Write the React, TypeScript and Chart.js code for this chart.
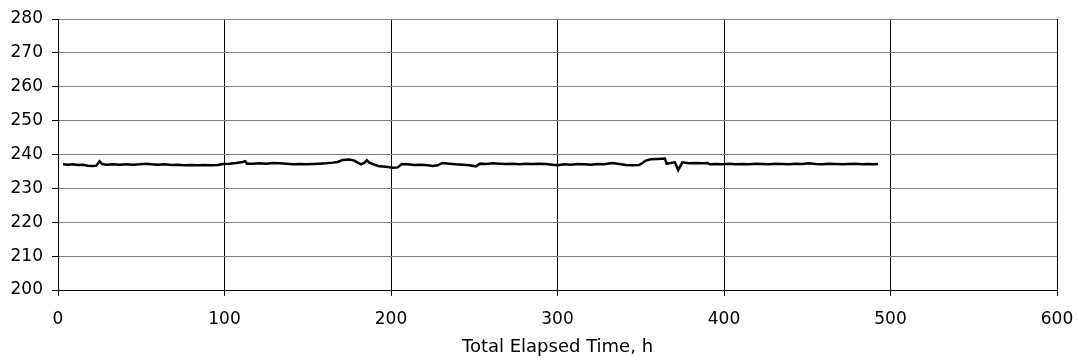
import React, { useEffect, useRef } from "react";
import { Chart, registerables } from "chart.js";

Chart.register(...registerables);

const hours = [
  3, 6, 9, 12, 15, 18, 21, 23, 25, 26.5, 29, 33, 37, 41, 45, 49, 53, 56, 60, 64,
  68, 72, 76, 80, 84, 88, 92, 96, 99, 103, 107, 111, 112.5, 113.5, 117, 121, 125,
  129, 133, 137, 141, 145, 149, 153, 157, 161, 165, 168, 171, 175, 178, 180, 182,
  184, 185.5, 187, 189, 193, 197, 201, 204, 206.5, 210, 214, 218, 222, 225, 228,
  231, 235, 239, 243, 247, 251, 253.5, 257, 261, 265, 269, 273, 277, 281, 285,
  289, 293, 297, 300, 304, 308, 312, 316, 320, 324, 328, 333, 337, 341, 345, 349,
  351, 353, 356, 360, 364.5, 365.5, 368, 370.5, 372.5, 375, 379, 383, 387, 390,
  391.5, 395, 399, 403, 407, 411, 415, 419, 423, 427, 431, 435, 439, 443, 447,
  451, 455, 459, 463, 467, 471, 475, 479, 483, 487, 490, 492.5,
];

const temperature = [
  237.1, 237.0, 237.1, 236.9, 237.0, 236.7, 236.6, 236.7, 238.0, 237.2, 237.0,
  237.1, 237.0, 237.1, 237.0, 237.1, 237.3, 237.1, 237.0, 237.1, 236.9, 237.0,
  236.8, 236.9, 236.8, 236.9, 236.8, 236.9, 237.2, 237.3, 237.5, 237.8, 238.0,
  237.3, 237.3, 237.4, 237.3, 237.5, 237.4, 237.3, 237.1, 237.2, 237.1, 237.2,
  237.3, 237.4, 237.6, 237.8, 238.4, 238.5, 238.2, 237.6, 237.1, 237.6, 238.3,
  237.6, 237.2, 236.5, 236.4, 236.1, 236.2, 237.2, 237.1, 236.9, 237.0, 236.8,
  236.6, 236.8, 237.5, 237.3, 237.1, 237.0, 236.8, 236.5, 237.3, 237.2, 237.4,
  237.3, 237.2, 237.3, 237.1, 237.3, 237.2, 237.3, 237.2, 237.0, 236.8, 237.1,
  237.0, 237.2, 237.1, 237.0, 237.2, 237.1, 237.5, 237.2, 236.9, 236.8, 236.9,
  237.5, 238.2, 238.6, 238.7, 238.8, 237.3, 237.5, 237.7, 235.4, 237.7, 237.4,
  237.5, 237.4, 237.5, 237.1, 237.2, 237.1, 237.3, 237.1, 237.2, 237.1, 237.3,
  237.2, 237.1, 237.3, 237.2, 237.1, 237.3, 237.2, 237.4, 237.2, 237.1, 237.3,
  237.2, 237.1, 237.2, 237.3, 237.1, 237.2, 237.1, 237.2,
];

const X_MIN = 0;
const X_MAX = 600;
const X_STEP = 100;
const Y_MIN = 200;
const Y_MAX = 280;
const Y_STEP = 10;
const X_TITLE = "Total Elapsed Time, h";

export default function App() {
  const ref = useRef<HTMLCanvasElement | null>(null);

  useEffect(() => {
    document.body.style.margin = "0";
    const canvas = ref.current;
    if (!canvas) return;
    const family = "'DejaVu Sans', 'Liberation Sans', Arial, sans-serif";
    const tickFont = { family, size: 17 };
    const titleFont = { family, size: 18 };
    const chart = new Chart(canvas, {
      type: "line",
      data: {
        datasets: [
          {
            data: hours.map((h, i) => ({ x: h, y: temperature[i] })),
            borderColor: "#000",
            borderWidth: 2.5,
            pointRadius: 0,
            tension: 0,
            fill: false,
          },
        ],
      },
      options: {
        responsive: false,
        animation: false,
        layout: { padding: { top: 19, right: 22, left: 0, bottom: 0 } },
        plugins: { legend: { display: false }, tooltip: { enabled: false } },
        scales: {
          x: {
            type: "linear",
            min: X_MIN,
            max: X_MAX,
            ticks: { stepSize: X_STEP, color: "#000", font: tickFont, padding: 13, maxRotation: 0 },
            grid: { color: "#000", lineWidth: 1, tickLength: 6, tickColor: "#000" },
            border: { color: "#000", width: 1 },
            title: { display: true, text: X_TITLE, color: "#000", font: titleFont, padding: { top: 4, bottom: 4 } },
            afterFit: (s: any) => {
              s.height = 72;
              s.paddingRight = 0;
              s.paddingLeft = 0;
            },
          },
          y: {
            min: Y_MIN,
            max: Y_MAX,
            ticks: { stepSize: Y_STEP, color: "#000", font: tickFont, padding: 9 },
            grid: { color: "#808080", lineWidth: 1, tickLength: 6, tickColor: "#000" },
            border: { color: "#000", width: 1 },
            afterFit: (s: any) => {
              s.width = 58;
              s.paddingTop = 0;
              s.paddingBottom = 0;
            },
          },
        },
      },
    });
    return () => chart.destroy();
  }, []);

  return <canvas ref={ref} width={1079} height={362} style={{ display: "block" }} />;
}
